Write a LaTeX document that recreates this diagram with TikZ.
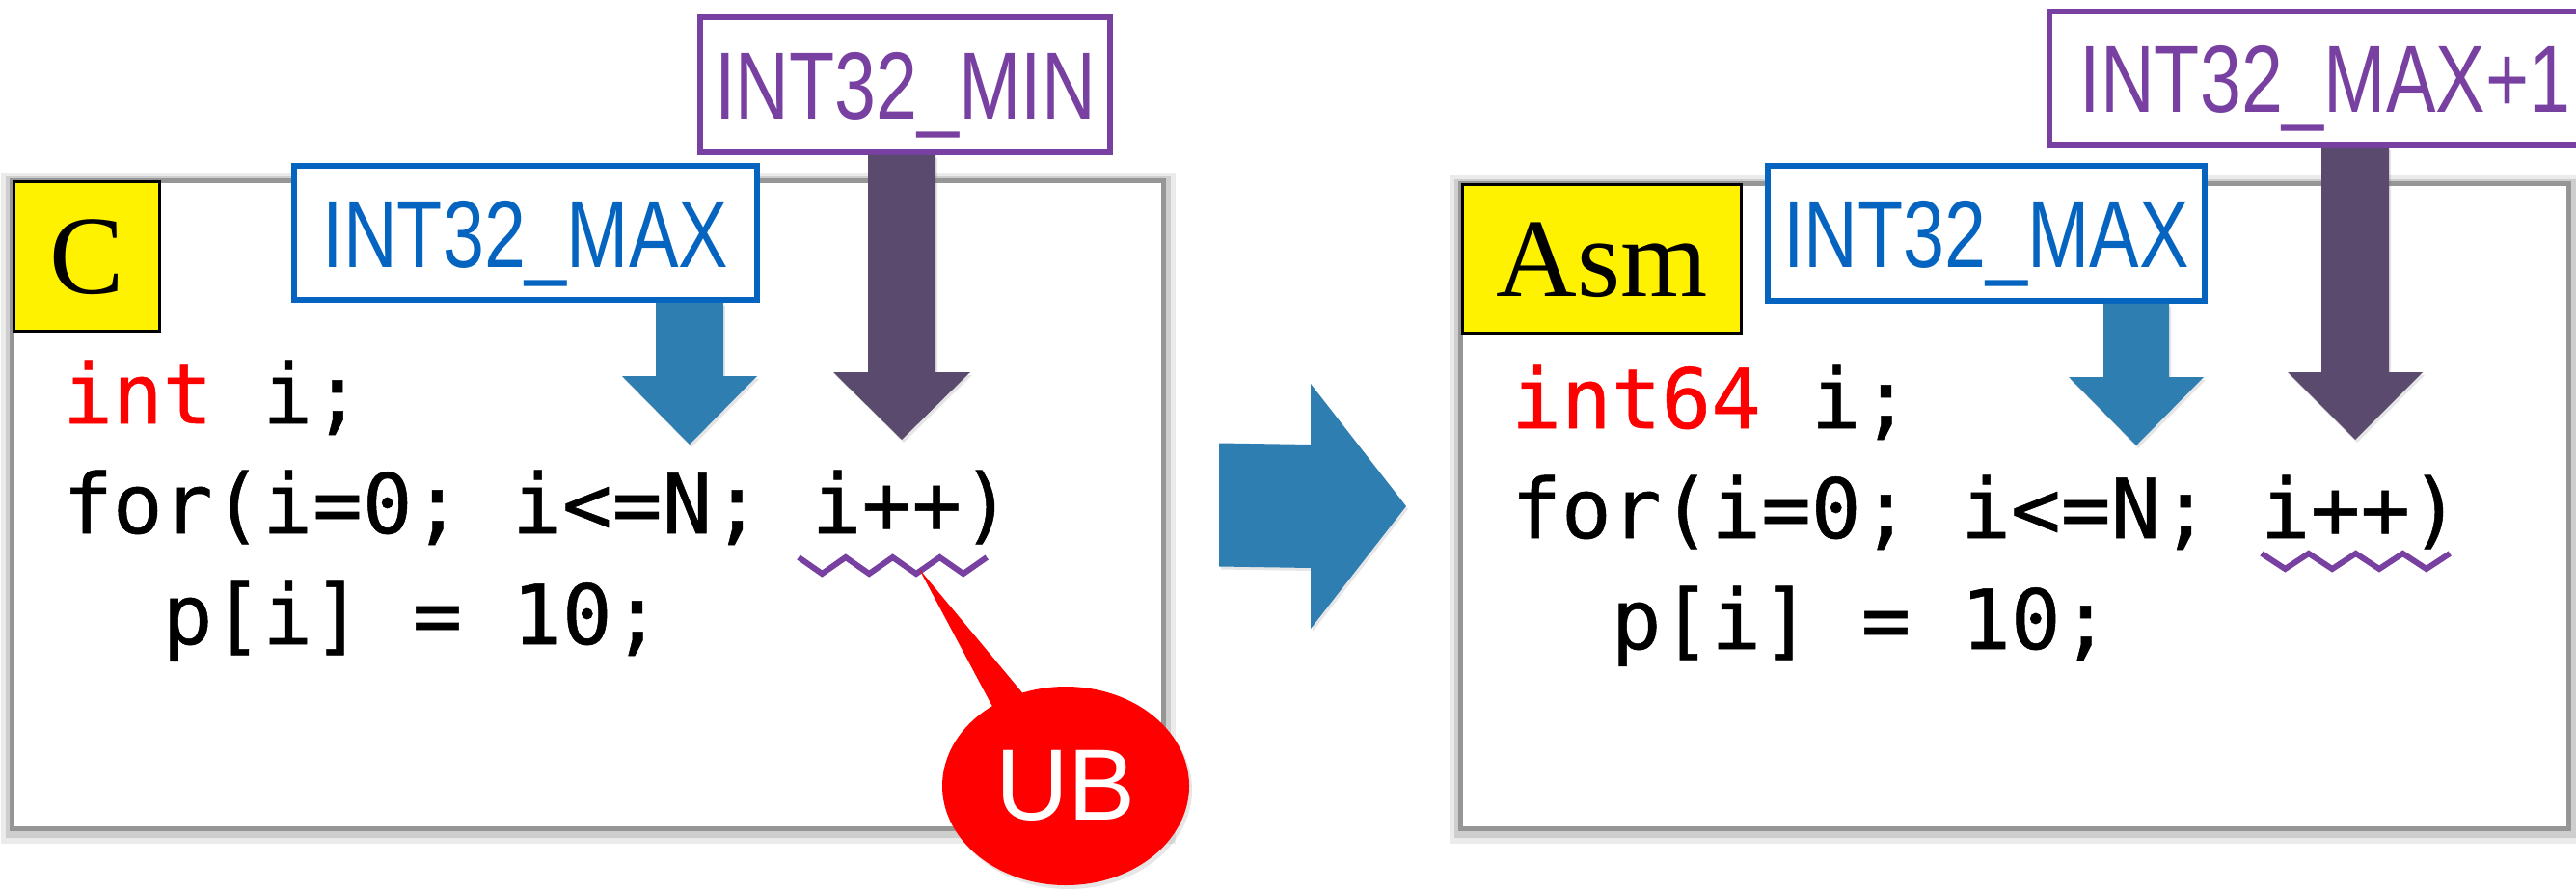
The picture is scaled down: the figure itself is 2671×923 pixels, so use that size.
\documentclass[tikz,border=0pt]{standalone}
\usepackage{fontspec}
\setmainfont{Liberation Serif}
\setmonofont[FakeBold=0.6]{DejaVu Sans Mono}
\newfontfamily\labelfont[FakeStretch=0.78]{Liberation Sans}
\newfontfamily\ubfont{Liberation Sans}
\usepackage{tikz}
\usetikzlibrary{calc,shadows,shapes.callouts}

\definecolor{framegray}{RGB}{150,150,150}
\definecolor{valblue}{RGB}{5,100,192}
\definecolor{valpurple}{RGB}{120,64,160}
\definecolor{arrowblue}{RGB}{47,126,178}
\definecolor{arrowpurple}{RGB}{90,74,110}
\definecolor{kwred}{RGB}{255,0,0}

\tikzset{
	panel/.style={draw=framegray, line width=5pt, fill=white, inner sep=0pt,
		preaction={draw=black, opacity=0.08, line width=24pt, transform canvas={yshift=-3pt}},
		preaction={draw=black, opacity=0.12, line width=14pt, transform canvas={yshift=-2pt}}},
	tag/.style={draw=black, line width=3pt, fill=yellow, inner sep=0pt,
		text height=77pt, text depth=0pt, font=\fontsize{116pt}{116pt}\selectfont},
	valbox/.style={fill=white, line width=5.5pt, inner sep=0pt,
		text height=71pt, text depth=0pt, font=\labelfont\fontsize{99pt}{99pt}\selectfont},
	code/.style={anchor=base west, inner sep=0pt, font=\ttfamily\fontsize{86pt}{86pt}\selectfont},
	squiggle/.style={draw=valpurple, line width=6pt, line join=miter},
	blockarrow/.style={drop shadow={shadow xshift=2pt, shadow yshift=-3pt, opacity=0.2}},
	ubcallout/.style={ellipse callout, fill=red, minimum width=256pt, minimum height=206pt,
		inner sep=0pt, callout pointer arc=16, text=white,
		drop shadow={shadow xshift=3pt, shadow yshift=-4pt, opacity=0.2},
		font=\ubfont\fontsize{105pt}{105pt}\selectfont}
}

\begin{document}
\begin{tikzpicture}[x=1pt,y=-1pt]
	\useasboundingbox (0,0) rectangle (2671,923);

	% the two code panels
	\node[panel, minimum width=1194pt, minimum height=672pt] (panelC) at (609.5,523.5) {};
	\node[panel, minimum width=1149pt, minimum height=669pt] (panelAsm) at (2089,525) {};

	% where the arrows point
	\coordinate (leqL) at (715,461);
	\coordinate (incL) at (935,456);
	\coordinate (leqR) at (2215,462);
	\coordinate (incR) at (2442,456);
	\coordinate (flowS) at ($(panelC.east)+(55,0)$);
	\coordinate (flowE) at ($(panelAsm.west)+(-54,0)$);

	% value boxes
	\node[valbox, draw=valblue, text=valblue, minimum width=480pt, minimum height=139pt] (maxL) at (545,241.5) {INT32\_MAX};
	\node[valbox, draw=valpurple, text=valpurple, minimum width=425pt, minimum height=140pt] (minL) at (938.5,88) {INT32\_MIN};
	\node[valbox, draw=valblue, text=valblue, minimum width=453pt, minimum height=140pt] (maxR) at (2059.5,242) {INT32\_MAX};
	\node[valbox, draw=valpurple, text=valpurple, minimum width=572pt, minimum height=138pt] (minR) at (2411,81) {INT32\_MAX+1};

	% down arrows
	\fill[arrowblue, blockarrow] ($(maxL.south -| leqL)+(-35,0)$) -- ($(maxL.south -| leqL)+(35,0)$) -- ($(leqL)+(35,-71)$) -- ($(leqL)+(70,-71)$) -- (leqL) -- ($(leqL)+(-70,-71)$) -- ($(leqL)+(-35,-71)$) -- cycle;
	\fill[arrowpurple, blockarrow] ($(minL.south -| incL)+(-35,0)$) -- ($(minL.south -| incL)+(35,0)$) -- ($(incL)+(35,-70)$) -- ($(incL)+(71,-70)$) -- (incL) -- ($(incL)+(-71,-70)$) -- ($(incL)+(-35,-70)$) -- cycle;
	\fill[arrowblue, blockarrow] ($(maxR.south -| leqR)+(-34,0)$) -- ($(maxR.south -| leqR)+(34,0)$) -- ($(leqR)+(34,-71)$) -- ($(leqR)+(70,-71)$) -- (leqR) -- ($(leqR)+(-70,-71)$) -- ($(leqR)+(-34,-71)$) -- cycle;
	\fill[arrowpurple, blockarrow] ($(minR.south -| incR)+(-35,0)$) -- ($(minR.south -| incR)+(35,0)$) -- ($(incR)+(35,-70)$) -- ($(incR)+(70,-70)$) -- (incR) -- ($(incR)+(-70,-70)$) -- ($(incR)+(-35,-70)$) -- cycle;

	% C to Asm
	\fill[arrowblue, blockarrow] ($(flowS)+(0,-64)$) -- ($(flowE)+(-99,-64)$) -- ($(flowE)+(-99,-127)$) -- (flowE) -- ($(flowE)+(-99,127)$) -- ($(flowE)+(-99,64)$) -- ($(flowS)+(0,64)$) -- cycle;

	% language tags
	\node[tag, minimum width=151pt, minimum height=155pt] (tagC) at (90,266) {C};
	\node[tag, minimum width=289pt, minimum height=154pt] (tagAsm) at (1661,268.5) {Asm};

	% code
	\node[code] (declL) at (65,439) {\textcolor{kwred}{int} i;};
	\node[code] (loopL) at (65,553) {for(i=0; i<=N; i++)};
	\node[code] (bodyL) at (65,668) {\phantom{xx}p[i] = 10;};
	\node[code] (declR) at (1567,444) {\textcolor{kwred}{int64} i;};
	\node[code] (loopR) at (1567,558) {for(i=0; i<=N; i++)};
	\node[code] (bodyR) at (1567,673) {\phantom{xx}p[i] = 10;};

	% wavy marks under i++
	\coordinate (sqL) at (828,578);
	\coordinate (sqR) at (2345,574);
	\draw[squiggle] (sqL) -- ++(24.4,17) -- ++(24.4,-17) -- ++(24.4,17) -- ++(24.4,-17)
		-- ++(24.4,17) -- ++(24.4,-17) -- ++(24.4,17) -- ++(24.4,-17);
	\draw[squiggle] (sqR) -- ++(24.4,16) -- ++(24.4,-16) -- ++(24.4,16) -- ++(24.4,-16)
		-- ++(24.4,16) -- ++(24.4,-16) -- ++(24.4,16) -- ++(24.4,-16);

	% UB
	\coordinate (ubtip) at (953,590);
	\node[ubcallout, callout absolute pointer={(ubtip)}] (ub) at (1105,815) {UB};
\end{tikzpicture}
\end{document}
